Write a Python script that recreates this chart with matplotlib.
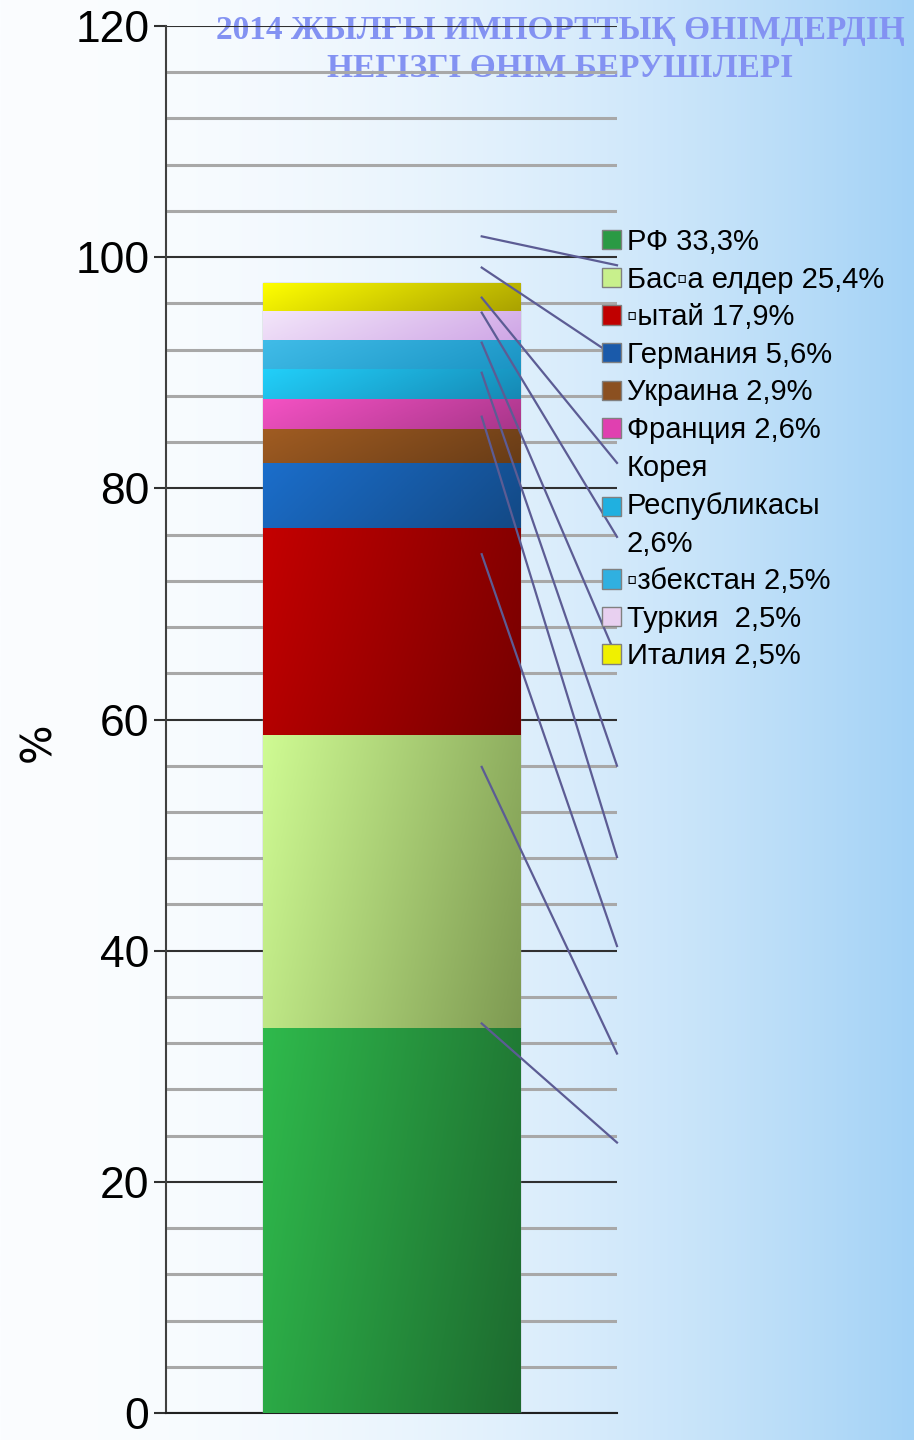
import numpy as np
import matplotlib.pyplot as plt
from matplotlib.patches import Patch
from matplotlib.colors import to_rgb

# data (bottom to top of the stacked column)
countries = ['РФ', 'Бас▫а елдер', '▫ытай', 'Германия', 'Украина', 'Франция',
             'Корея\nРеспубликасы', '▫збекстан', 'Туркия ', 'Италия']
shares = [33.3, 25.4, 17.9, 5.6, 2.9, 2.6, 2.6, 2.5, 2.5, 2.5]
light_colors = ['#2fba4c', '#cffb93', '#c40000', '#1b6ecb', '#a05c22', '#f552c4',
                '#22d0fa', '#40bce8', '#f3e6fa', '#ffff00']
dark_colors = ['#1d6a2f', '#7e9a52', '#760000', '#134985', '#683c17', '#a8368a',
               '#1688b4', '#1b94c4', '#cfa6e6', '#aaa200']
legend_colors = ['#2a9a44', '#c8f08c', '#c00000', '#1a5aaa', '#8b5020', '#e040b0',
                 '#20b0e0', '#30b0e0', '#e8d0f0', '#f0f000']

# leader lines left over from the data labels (y in %, start in bar, end at right)
leader_start = [101.8, 99.1, 96.5, 95.2, 92.6, 90.0, 86.2, 74.3, 55.9, 33.7]
leader_end = [99.3, 91.3, 82.2, 75.8, 65.3, 56.0, 48.1, 40.4, 31.1, 23.4]

title = '2014 ЖЫЛҒЫ ИМПОРТТЫҚ ӨНІМДЕРДІҢ\nНЕГІЗГІ ӨНІМ БЕРУШІЛЕРІ'

sans = ['Liberation Sans', 'DejaVu Sans']

fig = plt.figure(figsize=(9.14, 14.4), dpi=100)

# background gradient, white -> light blue
bg = fig.add_axes([0, 0, 1, 1], zorder=0)
xx = np.linspace(0, 1, 400)
t = xx ** 2.0
c0, c1 = np.array(to_rgb('#fbfdff')), np.array(to_rgb('#a3d2f6'))
grad = c0[None, None, :] * (1 - t[None, :, None]) + c1[None, None, :] * t[None, :, None]
bg.imshow(np.repeat(grad, 2, axis=0), extent=[0, 1, 0, 1], aspect='auto')
bg.set_xlim(0, 1)
bg.set_ylim(0, 1)
bg.axis('off')
bg.text(560 / 914, 1 - 15 / 1440, title, ha='center', va='top', fontsize=24,
        fontweight='bold', family='Liberation Serif', color='#8392f2',
        linespacing=1.28)

ax = fig.add_axes([166 / 914, 27 / 1440, 451 / 914, 1387 / 1440], zorder=1)
ax.patch.set_alpha(0)

bottoms = np.concatenate([[0], np.cumsum(shares)[:-1]])
bars = ax.bar([0.5] * len(shares), shares, width=0.57, bottom=bottoms,
              color=light_colors, edgecolor='#a0a0a0', linewidth=1, zorder=3)

# horizontal shading inside each segment
for p, lc, dc in zip(bars.patches, light_colors, dark_colors):
    x0, y0 = p.get_x(), p.get_y()
    w, h = p.get_width(), p.get_height()
    gx = np.linspace(0, 1, 200)
    gy = np.linspace(0, 1, 20)
    tt = np.clip(0.8 * gx[None, :] + 0.2 * (1 - gy[:, None]), 0, 1)
    a, b = np.array(to_rgb(lc)), np.array(to_rgb(dc))
    img = a * (1 - tt[..., None]) + b * tt[..., None]
    im = ax.imshow(img, extent=[x0, x0 + w, y0 + h, y0], aspect='auto', zorder=3.5)
    im.set_clip_path(p)

for ys, ye in zip(leader_start, leader_end):
    ax.plot([0.70, 1.0], [ys, ye], color='#5c5c94', lw=1.6,
            transform=ax.get_yaxis_transform(), clip_on=False, zorder=5)

ax.set_xlim(0, 1)
ax.set_ylim(0, 120)
ax.set_yticks(range(0, 121, 20))
ax.set_yticks(range(0, 121, 4), minor=True)
ax.grid(which='minor', axis='y', color='#a8a8a8', lw=2.2, zorder=1)
ax.grid(which='major', axis='y', color='#303030', lw=1.5, zorder=1.5)
ax.set_axisbelow(True)
ax.set_xticks([])
ax.tick_params(axis='y', which='major', direction='out', length=9, width=1.5,
               color='#303030', pad=3, labelsize=32)
ax.tick_params(axis='y', which='minor', length=0)
for lab in ax.get_yticklabels():
    lab.set_family(sans)
for s in ['top', 'right']:
    ax.spines[s].set_visible(False)
ax.spines['left'].set_color('#404040')
ax.spines['left'].set_linewidth(1.5)
ax.spines['bottom'].set_color('#202020')
ax.spines['bottom'].set_linewidth(1.5)

fig.text(38 / 914, 1 - 742 / 1440, '%', rotation=90, ha='center', va='center',
         fontsize=30, family='DejaVu Sans')

labels = []
for name, v in zip(countries, shares):
    sep = '\n' if '\n' in name else ' '
    labels.append(f'{name}{sep}{v:.1f}%'.replace('.', ','))
handles = [Patch(facecolor=c, edgecolor='#808080', lw=1) for c in legend_colors]
leg = ax.legend(handles, labels, loc='upper left',
                bbox_to_anchor=(602 / 914, 1 - 228 / 1440), bbox_transform=fig.transFigure,
                frameon=False, prop={'family': sans, 'size': 21},
                handlelength=0.65, handleheight=0.65, handletextpad=0.2,
                labelspacing=0.33, borderpad=0, borderaxespad=0)
for txt in leg.get_texts():
    txt.set_linespacing(1.45)

fig.savefig('out.png', dpi=100)
